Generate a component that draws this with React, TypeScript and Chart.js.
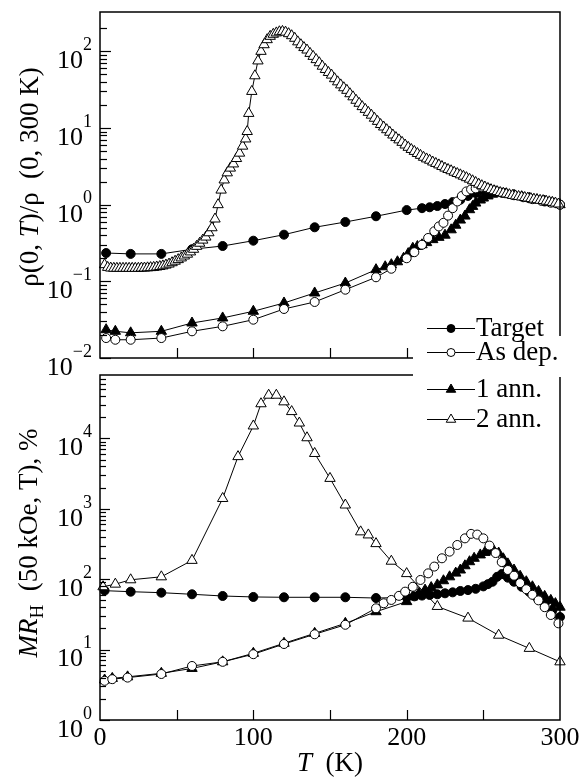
import React, { useEffect, useRef } from "react";
import { Chart, registerables } from "chart.js";
Chart.register(...registerables);

const SERIF = '"Liberation Serif", "Times New Roman", Times, serif';

// ---------- axes ----------
const xTickMarks = [50, 100, 150, 200, 250];
const xTickLabels = [0, 100, 200, 300];
const topYMin = 0.01;
const topYMax = 326;
const botYMin = 1;
const botYMax = 79400;

const seriesNames = ["Target", "As dep.", "1 ann.", "2 ann."];

// ---------- top panel: rho(0,T)/rho(0,300 K) ----------
const rhoTargetT = [4, 20, 40, 60, 80, 100, 120, 140, 160, 180, 200, 210, 215, 220, 225, 230, 235, 240, 245, 250, 255, 262, 270, 280, 290, 300];
const rhoTargetV = [0.234, 0.228, 0.228, 0.262, 0.289, 0.339, 0.406, 0.507, 0.594, 0.706, 0.85, 0.9, 0.925, 0.96, 1.02, 1.08, 1.16, 1.3, 1.42, 1.52, 1.5, 1.43, 1.33, 1.21, 1.1, 1.0];

const rhoAsDepT = [4, 10, 20, 40, 60, 80, 100, 120, 140, 160, 180, 190, 200, 205, 210, 214, 218, 221, 224, 227, 230, 233, 236, 239, 242, 245, 249, 253, 258, 264, 270, 276, 282, 288, 294, 300];
const rhoAsDepV = [0.0182, 0.0173, 0.0173, 0.0182, 0.0223, 0.0259, 0.0316, 0.0436, 0.0538, 0.0778, 0.113, 0.146, 0.2, 0.24, 0.3, 0.368, 0.45, 0.52, 0.58, 0.72, 0.9, 1.1, 1.3, 1.49, 1.58, 1.63, 1.69, 1.62, 1.52, 1.42, 1.33, 1.25, 1.18, 1.12, 1.06, 1.0];

const rho1AnnT = [4, 10, 20, 40, 60, 80, 100, 120, 140, 160, 180, 186, 190, 194, 198, 201, 204, 207, 210, 213, 217, 221, 225, 229, 232, 235, 238, 241, 243, 245, 248, 250, 253, 256, 260, 265, 270, 275, 280, 285, 290, 295, 300];
const rho1AnnV = [0.0234, 0.0223, 0.0213, 0.0223, 0.0286, 0.0333, 0.0407, 0.0522, 0.0705, 0.095, 0.142, 0.155, 0.165, 0.18, 0.2, 0.23, 0.27, 0.285, 0.3, 0.32, 0.35, 0.375, 0.4, 0.47, 0.54, 0.63, 0.71, 0.86, 0.95, 1.05, 1.15, 1.22, 1.3, 1.37, 1.42, 1.39, 1.33, 1.27, 1.21, 1.16, 1.11, 1.06, 1.0];

const rho2AnnT = [3, 5, 7, 9, 11, 13, 15, 17, 19, 21, 23, 25, 27, 29, 31, 33, 35, 37, 39, 41, 43, 45, 47, 49, 51, 53, 55, 57, 59, 61, 63, 65, 67, 69, 71, 73, 75, 77, 79, 81, 83, 85, 87, 89, 91, 93, 95, 96, 97, 99, 101, 103, 105, 107, 109, 111, 113, 115, 117, 119, 121, 123, 125, 127, 129, 131, 133, 135, 137, 139, 141, 143, 145, 147, 149, 151, 153, 155, 157, 159, 161, 163, 165, 167, 169, 171, 173, 175, 177, 179, 181, 183, 185, 187, 189, 191, 193, 195, 197, 199, 201, 203, 205, 207, 209, 211, 213, 215, 217, 219, 221, 223, 225, 227, 229, 231, 233, 235, 237, 239, 241, 243, 245, 247, 249, 251, 253, 255, 257, 259, 261, 263, 265, 267, 269, 271, 273, 275, 277, 279, 281, 283, 285, 287, 289, 291, 293, 295, 297, 299];
const rho2AnnV = [0.165, 0.152, 0.149, 0.148, 0.148, 0.148, 0.148, 0.148, 0.148, 0.148, 0.148, 0.148, 0.149, 0.149, 0.15, 0.151, 0.152, 0.154, 0.156, 0.159, 0.163, 0.168, 0.175, 0.183, 0.192, 0.202, 0.214, 0.226, 0.242, 0.262, 0.286, 0.314, 0.345, 0.378, 0.43, 0.5, 0.65, 1.0, 1.55, 2.1, 2.6, 3.0, 3.4, 4.0, 4.7, 5.8, 7.2, 9.0, 15.5, 30, 48, 75, 100, 122, 142, 157, 167, 174, 180, 182, 178, 170, 160, 148, 133, 122, 112, 104, 94, 86, 78, 71, 64, 58, 53, 49, 44, 40, 36.5, 33.5, 31, 28, 25.5, 23, 21, 19, 17.5, 16, 14.7, 13.4, 12.2, 11.1, 10.3, 9.5, 8.8, 8.1, 7.5, 7.0, 6.5, 6.0, 5.6, 5.25, 4.95, 4.65, 4.4, 4.15, 3.95, 3.8, 3.6, 3.45, 3.3, 3.15, 3.0, 2.88, 2.77, 2.65, 2.55, 2.45, 2.35, 2.25, 2.15, 2.05, 1.95, 1.85, 1.77, 1.7, 1.63, 1.57, 1.52, 1.48, 1.44, 1.41, 1.38, 1.35, 1.32, 1.3, 1.28, 1.26, 1.24, 1.22, 1.2, 1.18, 1.16, 1.14, 1.13, 1.11, 1.09, 1.07, 1.05, 1.02];

// ---------- bottom panel: MR_H (50 kOe, T), % ----------
const mrTargetT = [3, 20, 40, 60, 80, 100, 120, 140, 160, 180, 200, 205, 210, 215, 220, 225, 230, 235, 240, 245, 250, 253, 256, 259, 262, 266, 270, 275, 280, 285, 290, 295, 300];
const mrTargetV = [68.7, 66.4, 64.3, 61, 57.7, 55.9, 55.3, 55.3, 55.3, 54, 55, 57, 58.5, 59.7, 61, 63, 65, 68, 70, 73, 79, 85, 92, 108, 118, 105, 92, 78, 66, 55, 45, 36, 29];

const mrAsDepT = [3, 8, 18, 40, 60, 80, 100, 120, 140, 160, 180, 185, 190, 195, 199, 204, 209, 214, 218, 223, 228, 233, 238, 242, 246, 250, 254, 258, 262, 266, 270, 274, 278, 282, 286, 290, 294, 299];
const mrAsDepV = [3.6, 3.8, 4.0, 4.5, 5.85, 6.7, 8.6, 12, 16.5, 22.5, 38.6, 45.5, 50.7, 58, 66.5, 78, 97.5, 121, 151, 198, 246, 306, 380, 440, 430, 380, 300, 235, 175, 135, 112, 88, 72, 60, 50, 40, 31, 23.6];

const mr1AnnT = [3, 8, 18, 40, 60, 80, 100, 120, 140, 160, 180, 200, 204, 208, 212, 216, 220, 224, 228, 232, 235, 238, 241, 244, 248, 251, 254, 257, 260, 263, 266, 270, 274, 278, 282, 286, 290, 294, 297, 300];
const mr1AnnV = [3.7, 3.9, 4.1, 4.6, 5.4, 6.7, 8.85, 12.3, 17, 23.6, 34.5, 48, 56, 63, 70, 76, 83, 95, 108, 122, 135, 155, 177, 198, 221, 240, 255, 250, 235, 195, 165, 135, 110, 92, 78, 67, 57, 50, 45, 40];

const mr2AnnT = [2, 10, 20, 40, 60, 80, 90, 100, 105, 110, 115, 120, 125, 130, 135, 140, 150, 160, 170, 175, 180, 190, 200, 220, 240, 260, 280, 300];
const mr2AnnV = [78, 85, 98, 108, 185, 1400, 5500, 15000, 31000, 41000, 41000, 33000, 24000, 16500, 10200, 6100, 2700, 1130, 470, 425, 320, 180, 120, 41, 28, 16, 10.4, 6.7];

// ---------- helpers ----------
type Style = "fc" | "oc" | "ft" | "ot";
const pts = (t: number[], v: number[]) => t.map((x, i) => ({ x, y: v[i] }));

function series(label: string, t: number[], v: number[], style: Style) {
  const tri = style === "ft" || style === "ot";
  const filled = style === "fc" || style === "ft";
  return {
    label,
    data: pts(t, v),
    borderColor: "#000",
    borderWidth: 1,
    pointStyle: tri ? "triangle" : "circle",
    pointRadius: tri ? 6 : 4.5,
    pointBorderWidth: 1,
    pointBorderColor: "#000",
    pointBackgroundColor: filled ? "#000" : "#fff",
    tension: 0,
    fill: false,
    clip: false as any,
  };
}

type Part = { t: string; f: string; dy?: number };
function drawRich(ctx: CanvasRenderingContext2D, parts: Part[], x: number, y: number, align: "left" | "center" | "right") {
  ctx.textAlign = "left";
  let w = 0;
  for (const p of parts) {
    ctx.font = p.f;
    w += ctx.measureText(p.t).width;
  }
  let cx = align === "center" ? x - w / 2 : align === "right" ? x - w : x;
  for (const p of parts) {
    ctx.font = p.f;
    ctx.fillText(p.t, cx, y + (p.dy || 0));
    cx += ctx.measureText(p.t).width;
  }
}

function marker(ctx: CanvasRenderingContext2D, style: Style, x: number, y: number) {
  const tri = style === "ft" || style === "ot";
  const filled = style === "fc" || style === "ft";
  ctx.beginPath();
  if (tri) {
    const r = 5.5;
    ctx.moveTo(x, y - r);
    ctx.lineTo(x + r * 0.866, y + r * 0.5);
    ctx.lineTo(x - r * 0.866, y + r * 0.5);
    ctx.closePath();
  } else {
    ctx.arc(x, y, 4, 0, Math.PI * 2);
  }
  ctx.fillStyle = filled ? "#000" : "#fff";
  ctx.fill();
  ctx.lineWidth = 1;
  ctx.strokeStyle = "#000";
  ctx.stroke();
}

function decor(panel: "top" | "bottom") {
  return {
    id: "decor-" + panel,
    afterDraw(chart: any) {
      const ctx: CanvasRenderingContext2D = chart.ctx;
      const a = chart.chartArea;
      const x = chart.scales.x;
      const y = chart.scales.y;
      const isTop = panel === "top";
      ctx.save();
      ctx.strokeStyle = "#000";
      ctx.fillStyle = "#000";
      // frame
      ctx.lineWidth = 1.5;
      ctx.strokeRect(a.left, a.top, a.right - a.left, a.bottom - a.top);
      // x ticks (inward)
      ctx.lineWidth = 1.2;
      for (const t of xTickMarks) {
        const px = Math.round(x.getPixelForValue(t)) + 0.5;
        ctx.beginPath();
        ctx.moveTo(px, a.bottom);
        ctx.lineTo(px, a.bottom - 10);
        ctx.stroke();
      }
      // y ticks (inward, log)
      const eMin = Math.floor(Math.log10(y.min));
      const eMax = Math.ceil(Math.log10(y.max));
      const major = isTop ? 11 : 10;
      const minor = isTop ? 7 : 6;
      for (let e = eMin; e <= eMax; e++) {
        for (let k = 1; k <= 9; k++) {
          const v = k * Math.pow(10, e);
          if (v < y.min * 0.999 || v > y.max) continue;
          const py = Math.round(y.getPixelForValue(v)) + 0.5;
          if (k > 1 && (py < a.top + 4 || py > a.bottom - 4)) continue;
          ctx.beginPath();
          ctx.moveTo(a.left, py);
          ctx.lineTo(a.left + (k === 1 ? major : minor), py);
          ctx.stroke();
        }
      }
      // y labels 10^n
      ctx.textBaseline = "middle";
      for (let e = Math.ceil(Math.log10(y.min) - 1e-9); e <= Math.floor(Math.log10(y.max)); e++) {
        const py = y.getPixelForValue(Math.pow(10, e));
        const exp = e < 0 ? "\u2212" + Math.abs(e) : String(e);
        drawRich(
          ctx,
          [
            { t: "10", f: `26px ${SERIF}`, dy: 10 },
            { t: exp, f: `18px ${SERIF}`, dy: -6 },
          ],
          a.left - 8,
          py,
          "right"
        );
      }
      ctx.textBaseline = "alphabetic";
      if (isTop) {
        // y title
        ctx.save();
        ctx.translate(38, 177);
        ctx.rotate(-Math.PI / 2);
        drawRich(
          ctx,
          [
            { t: "\u03C1(0, ", f: `27px ${SERIF}` },
            { t: "T", f: `italic 27px ${SERIF}` },
            { t: ")/\u03C1  (0, 300 K)", f: `27px ${SERIF}` },
          ],
          0,
          0,
          "center"
        );
        ctx.restore();
      } else {
        // x tick labels
        ctx.textBaseline = "middle";
        ctx.textAlign = "center";
        ctx.font = `26px ${SERIF}`;
        for (const t of xTickLabels) {
          ctx.fillText(String(t), x.getPixelForValue(t), a.bottom + 18);
        }
        ctx.textBaseline = "alphabetic";
        // x title
        drawRich(
          ctx,
          [
            { t: "T", f: `italic 27px ${SERIF}` },
            { t: "  (K)", f: `27px ${SERIF}` },
          ],
          (a.left + a.right) / 2,
          771,
          "center"
        );
        // y title
        ctx.save();
        ctx.translate(37, 543);
        ctx.rotate(-Math.PI / 2);
        drawRich(
          ctx,
          [
            { t: "MR", f: `italic 27px ${SERIF}` },
            { t: "H", f: `19px ${SERIF}`, dy: 6 },
            { t: "  (50 kOe, T), %", f: `27px ${SERIF}` },
          ],
          0,
          0,
          "center"
        );
        ctx.restore();
        // legend (spans the gap between the panels)
        ctx.fillStyle = "#fff";
        ctx.fillRect(413, 336, 153, 41);
        const rows: { style: Style; y: number }[] = [
          { style: "fc", y: 328 },
          { style: "oc", y: 352 },
          { style: "ft", y: 389 },
          { style: "ot", y: 419 },
        ];
        rows.forEach((r, i) => {
          ctx.strokeStyle = "#000";
          ctx.lineWidth = 1.2;
          ctx.beginPath();
          ctx.moveTo(427, r.y + 0.5);
          ctx.lineTo(475, r.y + 0.5);
          ctx.stroke();
          marker(ctx, r.style, 451, r.y + 0.5);
          ctx.fillStyle = "#000";
          ctx.textBaseline = "middle";
          ctx.textAlign = "left";
          ctx.font = `27px ${SERIF}`;
          ctx.fillText(seriesNames[i], 476, r.y + 1);
        });
      }
      ctx.restore();
    },
  };
}

function makeConfig(panel: "top" | "bottom"): any {
  const isTop = panel === "top";
  const datasets = isTop
    ? [
        series(seriesNames[3], rho2AnnT, rho2AnnV, "ot"),
        series(seriesNames[1], rhoAsDepT, rhoAsDepV, "oc"),
        series(seriesNames[0], rhoTargetT, rhoTargetV, "fc"),
        series(seriesNames[2], rho1AnnT, rho1AnnV, "ft"),
      ]
    : [
        series(seriesNames[3], mr2AnnT, mr2AnnV, "ot"),
        series(seriesNames[1], mrAsDepT, mrAsDepV, "oc"),
        series(seriesNames[0], mrTargetT, mrTargetV, "fc"),
        series(seriesNames[2], mr1AnnT, mr1AnnV, "ft"),
      ];
  return {
    type: "line",
    data: { datasets },
    options: {
      animation: false,
      responsive: false,
      maintainAspectRatio: false,
      devicePixelRatio: 1,
      events: [],
      layout: {
        padding: isTop
          ? { left: 100, right: 19, top: 12, bottom: 780 - 358 }
          : { left: 100, right: 19, top: 375, bottom: 780 - 720 },
      },
      plugins: { legend: { display: false }, tooltip: { enabled: false }, title: { display: false } },
      scales: {
        x: { type: "linear", min: 0, max: 300, display: false },
        y: {
          type: "logarithmic",
          min: isTop ? topYMin : botYMin,
          max: isTop ? topYMax : botYMax,
          display: false,
        },
      },
    },
    plugins: [decor(panel)],
  };
}

export default function App() {
  const topRef = useRef<HTMLCanvasElement>(null);
  const botRef = useRef<HTMLCanvasElement>(null);
  useEffect(() => {
    const charts: Chart[] = [];
    let cancelled = false;
    const build = () => {
      if (cancelled) return;
      if (topRef.current) charts.push(new Chart(topRef.current, makeConfig("top")));
      if (botRef.current) charts.push(new Chart(botRef.current, makeConfig("bottom")));
    };
    const fonts: any = (document as any).fonts;
    if (fonts && fonts.load) {
      Promise.all([
        fonts.load(`27px "Liberation Serif"`, "Target ρ10"),
        fonts.load(`italic 27px "Liberation Serif"`, "TMR"),
      ])
        .catch(() => null)
        .then(build);
    } else {
      build();
    }
    return () => {
      cancelled = true;
      charts.forEach((c) => c.destroy());
    };
  }, []);
  const cs: React.CSSProperties = { position: "absolute", left: 0, top: 0, width: 579, height: 780 };
  return (
    <div style={{ position: "absolute", left: 0, top: 0, width: 579, height: 780, background: "#fff", overflow: "hidden", fontFamily: SERIF }}>
      <span style={{ position: "absolute", left: -1000, top: 0, fontFamily: SERIF }}>Target ρ <i>T</i></span>
      <canvas ref={topRef} width={579} height={780} style={cs} />
      <canvas ref={botRef} width={579} height={780} style={cs} />
    </div>
  );
}
